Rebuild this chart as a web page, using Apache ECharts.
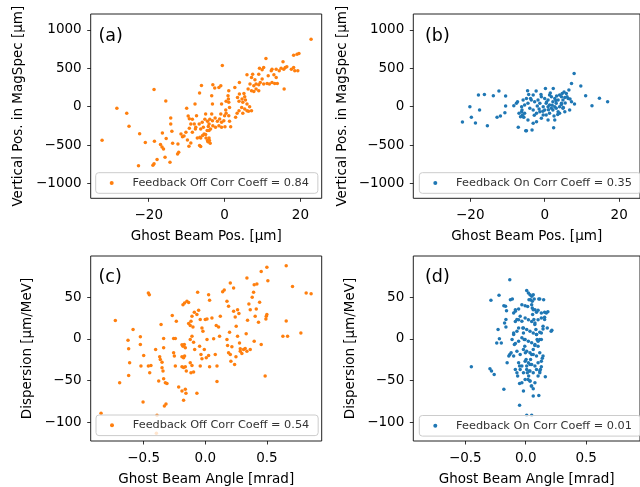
<!DOCTYPE html>
<html>
<head>
<meta charset="utf-8">
<script src="https://cdn.jsdelivr.net/npm/echarts@6/dist/echarts.min.js"></script>
<style>html,body{margin:0;padding:0;background:#fff}#c{width:640px;height:487px}</style>
</head>
<body>
<div id="c"></div>
<script>
// ---- data ----
const namesSeries = ['Feedback Off Corr Coeff = 0.84', 'Feedback On Corr Coeff = 0.35', 'Feedback Off Corr Coeff = 0.54', 'Feedback On Corr Coeff = 0.01'];
const panelLabels = ['(a)', '(b)', '(c)', '(d)'];
const xTicksPos = [-20, 0, 20];
const yTicksPos = [-1000, -500, 0, 500, 1000];
const xTicksAng = [-0.5, 0, 0.5];
const yTicksDisp = [-100, -50, 0, 50];

// (a) Ghost beam pos [um] vs vertical pos [um], feedback off
const offPos = [
[-18.6,225],[-15.5,74],[-28.4,-21],[-25.8,-86],[-25.2,-254],[-32.3,-435],[-22.4,-350],[-20.9,-466],[-18.5,-448],[-22.7,-768],
[-18.9,-759],[-18.6,-742],[-17.8,-687],[-16.9,-492],[-16.5,-522],[-16.1,-548],[-16.4,-341],[-15.7,-655],[-14.4,-720],[-15.4,-414],
[-14.2,-146],[-14.2,-224],[-13.9,-319],[-13.7,-474],[-12.3,-483],[-12.4,-613],[-12.1,-591],[-11.5,-354],[-11.1,-389],[-10.7,-380],
[-10.2,-332],[-10,-21],[-9.6,-120],[-9.3,-155],[-8.9,-224],[-9.3,-280],[-9.8,-431],[-9.4,-513],[-8.9,-470],[-7.8,35],
[-6.6,178],[-6.1,277],[-5.2,-163],[-5.0,-94],[-4.5,-189],[-8.5,-163],[-7.4,-116],[-8.0,-224],[-7.7,-289],[-7.2,-405],
[-6.6,-505],[-8.5,-332],[-7.6,-267],[-6.7,-224],[-6.3,-289],[-5.9,-202],[-5.6,-267],[-5.4,-353],[-4.5,-440],[-4.1,-310],
[-4.9,-405],[-6.3,-405],[-5.8,-375],[-4.3,-258],[-3.9,-163],[-4.4,-454],[-3.8,-475],[-6.5,-397],[-6.3,-518],
[22.8,877],[18.2,670],[19.1,683],[19.6,691],[15.4,583],[10.9,626],[-0.6,536],
[16.0,509],[16.4,518],[15.6,488],[14.9,501],[14.4,466],[13.6,488],[12.5,488],[12.3,466],[10.3,509],[9.9,479],[9.2,501],
[18.2,509],[18.5,466],[17.6,488],[19.3,466],[13.0,414],[13.6,380],[11.5,402],[9.9,359],[9.0,423],[15.7,229],[5.9,414],
[8.0,350],[8.3,294],[9.0,285],[7.7,272],[9.4,315],[10.3,294],[11.2,302],[11.8,294],[12.5,315],[13.2,302],[13.9,302],
[7.1,380],[7.4,423],[6.7,294],[6.2,229],[7.1,208],[7.7,199],[8.3,229],[9.0,208],
[3.9,315],[2.7,251],[1.1,208],[-1.0,272],[-1.5,251],[-3.1,285],[-2.6,242],[-3.4,143],[0.9,143],[0.4,70],[-0.8,35],[-3.2,35],
[3.9,165],[5.1,173],[5.3,130],[4.6,100],[5.5,87],[4.8,57],[3.8,70],[3.4,121],[5.9,35],[6.6,0],[5.3,-30],[4.5,-9],[3.8,-52],
[3.3,-86],[2.9,-138],[4.8,-86],[5.9,-52],[6.3,-60],[7.1,-52],
[1.0,100],[1.1,57],[1.3,-9],[0.3,-43],[0.4,-86],[1.1,-116],[0,-116],[-0.2,-181],[-0.8,-202],[1.3,-189],[0.1,-259],[1.6,-259],
[-1.5,-246],[-2.4,-267],[-3.1,-246],[-4.1,-224],[-3.7,-289],[-4.6,-310],[-5.0,-362],[-4.1,-405],[-4.0,-440],[-0.8,-267],
[-2.5,-146],[-3.2,-181],[-3.4,-95],[-1.9,-189],[-1.3,-159],[-1.0,-95]
];

// (b) feedback on
const onPos = [
[-22.1,-198],[-19.7,-138],[-18.6,-211],[-20.1,0],[-17.5,-43],[-17.8,151],[-16.2,160],[-13.8,143],[-12.3,203],[-10.5,138],
[-15.4,-246],[-10.5,9],[-10.7,-78],[-12.8,-138],[-11.9,-120],[-8.3,13],[-7.3,65],[-7.6,44],[-5.8,87],[-7.1,-267],
[-6.9,-85],[-6.2,-65],[-6.0,-108],[-6.5,-130],[-5.4,-85],[-5.6,-137],[-6.2,0],[-5.1,-311],
[7.9,433],[7.2,303],[9.7,268],[11.0,143],[12.7,13],[14.7,109],[16.9,65],[2.4,-272],[-4.9,-311],[-3.4,-302],[0.2,238],[2.3,238],
[-2.3,203],[-4.3,160],[4.7,173],[5.2,190],[6.5,216],[8.0,35],[7.2,65],[6.7,-43],[5.4,-65],
[4.0,-85],[2.7,-172],[0.9,-172],[-0.9,-150],[-2.2,-194],[-3.1,-215],[-4.5,-172],[-5.8,-130],[-6.1,-43],
[-0.9,130],[0,108],[0.9,87],[1.3,151],[1.8,130],[2.2,65],[2.7,108],[3.1,44],[3.6,87],[4.0,151],[4.5,130],[4.9,87],[5.4,121],
[5.8,173],[6.3,108],[0.4,44],[0.9,0],[1.3,22],[1.8,-21],[2.2,-43],[2.7,0],[3.1,-21],[3.6,-64],[0,-43],[-0.4,0],[-1.3,44],
[-1.8,87],[-2.7,65],[-3.6,87],[-4.5,44],[-4.0,-21],[-3.1,-43],[-2.2,-86],[-1.3,-64],[-0.4,-108],[0.4,-108],[1.3,-86],
[-4.9,108],[-5.4,22],[4.9,-21],[4.5,44],[4.0,0],[-3.8,108],[-3.1,151],[-4.6,207],
[-1.5,-30],[-2.8,-110],[-0.5,-60],[1.0,-40],[2.0,20],[3.0,80],[3.5,-100],[4.5,30],[5.5,50],[6.0,130],[-1.0,160],[1.5,180],
[2.5,-120],[0.5,60],[-2.0,10],[3.2,140],[5.0,-10],[6.8,100]
];

// (c) Ghost beam angle [mrad] vs dispersion [um/MeV], feedback off
const offAngle = [
[-0.846,-88.9],[-0.730,21.8],[-0.586,11.1],[-0.627,-1.6],[-0.622,-11.9],[-0.614,-28.6],[-0.622,-43.7],[-0.695,-52.4],[-0.527,2.4],
[-0.527,-6.7],[-0.522,-32.5],[-0.5,-19.8],[-0.505,-75.4],[-0.462,54.8],[-0.454,52.8],[-0.462,-32.5],[-0.451,-40.5],[-0.441,-31.7],
[-0.403,-12.7],[-0.378,-50.4],[-0.370,-21.4],[-0.365,-24.6],[-0.351,-27.8],[-0.351,-34.5],[-0.343,-38.5],[-0.338,0.4],[-0.338,-10.7],
[-0.359,17.1],[-0.392,-91.3],[-0.397,-112.7],[-0.338,-47.6],[-0.324,-52.4],[-0.311,-53.2],[-0.332,-80.2],[-0.319,-77.8],[-0.268,27.8],
[-0.257,0.4],[-0.243,0.4],[-0.257,-16.7],[-0.251,-20.6],[-0.243,-32.5],[-0.235,21],[-0.216,-57.5],[-0.189,-62.3],[-0.181,40.9],
[-0.168,42.9],[-0.189,-7.1],[-0.181,-8.7],[-0.170,-6.7],[-0.162,-10.7],[-0.189,-21.4],[-0.176,-22.6],[-0.168,-20.6],[-0.189,-33.3],
[-0.176,-34.1],[-0.162,-33.3],[-0.154,-38.5],[-0.162,-60.3],[-0.157,-65],[-0.176,-73.4],[-0.149,44.8],[-0.135,43.6],[-0.135,18.3],
[-0.122,15.9],[-0.116,21],[-0.1,14.3],[-0.108,27],[-0.089,31.7],[-0.122,-0.8],[-0.108,3.2],[-0.095,-4.0],[-0.086,-12.7],
[-0.122,-28.6],[-0.108,-31.7],[-0.116,-40.5],[-0.095,-39.7],[-0.068,-65.1],[-0.054,34.1],[-0.068,29],[-0.062,55.6],[-0.041,23],
[-0.027,13.1],[-0.019,9.1],[-0.046,-8.7],[-0.035,-18.7],[-0.027,-23.8],[-0.041,-32.5],
[0,23],[0.014,23.8],[0.027,52.8],[0.035,46],[0.014,-0.8],[-0.008,-12.7],[0.008,-22.6],[0.027,-19.8],[0.035,-33.3],[0.054,25],
[0.068,0],[0.081,-18.7],[0.089,15.9],[0.095,-32.5],[0.108,14.3],[0.116,3.2],[0.122,27],[0.141,56.3],[0.154,58.3],[0.176,44.8],
[0.189,38.9],[0.203,66.7],[0.197,7.9],[0.176,-0.8],[0.181,-7.9],[0.189,-16.7],[0.203,-18.7],[0.216,-9.5],[0.208,-26.6],[0.230,32.9],
[0.243,26.2],[0.251,15.1],[0.262,34.9],[0.273,30.2],[0.230,60.7],[0.238,-30.6],[0.249,-21.4],[0.262,3.2],[0.278,-4.8],[0.284,-11.9],
[0.297,-17.5],[0.311,-12.7],[0.338,-14.7],[0.332,6.0],[0.343,22.2],[0.354,41.7],[0.365,34.9],[0.381,49.6],[0.392,55.6],[0.338,72.6],
[0.397,64.7],[0.419,65.5],[0.405,27],[0.414,35.7],[0.432,19.8],[0.441,43.7],[0.454,80.6],[0.492,23.8],[0.495,27],[0.5,29],
[0.5,85.7],[0.486,-44.4],[0.508,69.4],[0.454,-6.7],[0.397,-2.8],[0.365,-12.7],[0.324,-11.5],[0.284,-14.7],[0.657,87.3],[0.657,21.4],
[0.630,3.2],[0.668,3.2],[0.708,62.7],[0.776,7.1],[0.819,54.8],[0.859,54],[0.095,-50.8]
];

// (d) feedback on
const onAngle = [
[-0.132,70.6],[-0.450,-33.3],[-0.296,-35.7],[-0.283,-38.5],[-0.261,-42.5],[-0.288,46],[-0.221,52],[-0.240,-4.8],[-0.218,0],[-0.202,-4.8],
[-0.229,11.1],[-0.181,-60.3],[-0.181,39.7],[-0.167,38.9],[-0.164,23],[-0.175,19],[-0.164,14.3],[-0.159,33.7],[-0.127,46.8],[-0.111,47.6],
[-0.154,-28.6],[-0.140,-20.6],[-0.132,-18.7],[-0.121,-16.7],[-0.113,-0.8],[-0.1,7.1],[-0.094,-6.7],[-0.1,31],[-0.086,34.9],[-0.073,23],
[-0.059,13.1],[-0.086,-36.5],[-0.073,-40.5],[-0.067,-44.4],[-0.051,-32.5],[-0.051,-79.4],[-0.051,-53.2],[-0.019,-62.3],
[-0.046,27],[-0.032,21],[-0.024,13.1],[-0.019,7.1],[-0.013,-0.8],[-0.008,-8.7],[-0.003,-16.7],[0.003,-24.6],[0.008,-32.5],[0.013,-40.5],
[0.019,-48.4],[0.008,57.9],[0.022,54.8],[0.035,52.8],[0.040,46.8],[0.049,40.9],[0.062,34.9],[0.057,29],[0.067,23],[0.075,17.1],
[0.084,11.1],[0.089,5.2],[0.094,-0.8],[0.075,-7.9],[0.062,-12.7],[0.049,-18.7],[0.040,-24.6],[0.035,-30.6],[0.030,-38.5],[0.024,-44.4],
[0.035,-50.4],[0.046,-56.3],[0.062,-59.5],[0.116,-38.5],[0.129,-33.3],[0.137,-23],[0.102,-8.7],[0.116,-0.8],[0.129,7.1],[0.143,15.1],
[0.156,23],[0.170,31],[0.148,46.8],[0.116,47.6],[0.178,13.1],[0.216,10.3],[0.183,32.5],[0.156,25.8],[0.162,-45.2],[0.108,-67.5],
[0.062,-68.3],[0.143,-20.6],[0.121,-36.5],[0.102,-44.4],[0.008,-91.3],[0.049,-91.3],
[0.049,50.8],[0.062,52.7],[0.027,46.8],[0.054,44.8],[0.070,47.6],[0.108,47.6],[-0.032,40.8],[-0.005,39.6],[0.016,38.8],[-0.059,35.7],
[-0.086,32.9],[0.054,36.9],[0.076,34.9],[0.089,31.7],[0.102,34.1],[0.129,30.9],[0.156,31.7],[0.210,9.1],
[-0.005,24.9],[0.022,22.9],[0.049,20.9],[0.076,19],[0.102,22.9],[0.129,24.9],[-0.059,22.9],[-0.086,20.9],
[-0.019,13.1],[0.008,11.1],[0.035,9.1],[0.062,7.1],[0.089,5.1],[0.116,7.9],[0.143,11.9],[-0.073,9.1],[-0.100,5.1],
[-0.032,1.2],[-0.005,-0.8],[0.022,-2.8],[0.049,-4.7],[0.076,-6.7],[0.102,-2.8],[0.129,-0.8],[-0.059,-2.8],[-0.086,-5.6],
[-0.019,-12.7],[0.008,-14.7],[0.035,-16.7],[0.062,-18.7],[0.089,-20.6],[0.116,-16.7],[-0.046,-18.7],[-0.073,-14.7],[-0.100,-20.6],
[-0.005,-26.6],[0.022,-28.6],[0.049,-30.6],[0.076,-32.5],[0.102,-28.6],[0.129,-26.6],[-0.032,-32.5],[-0.059,-28.6],
[0.008,-36.5],[0.035,-38.5],[0.062,-40.5],[0.089,-36.5],[0.116,-40.5],[-0.019,-40.5],[-0.046,-36.5],
[-0.005,-48.4],[0.035,-50.4],[0.076,-52.4],[-0.032,-52.4],[0.049,-56.3]
];

// ---- chart ----
const FONT = 'DejaVu Sans';
const fmt = v => (v < 0 ? '\u2212' + String(Math.abs(v)) : String(v));
const fmtAng = v => { const s = Math.abs(v).toFixed(1); return v < 0 ? '\u2212' + s : s; };

const grids = [
  {left: 90.7, top: 14, width: 231, height: 184.3},
  {left: 413.3, top: 14, width: 231, height: 184.3},
  {left: 90.7, top: 256, width: 231, height: 185.6},
  {left: 413.3, top: 256, width: 231, height: 185.6}
].map(g => Object.assign(g, {show: true, borderColor: '#222', borderWidth: 1, backgroundColor: 'transparent'}));

function xAxis(i, min, max, ticks, f, name) {
  return {
    gridIndex: i, type: 'value', min, max, position: 'bottom',
    splitLine: {show: false}, axisLine: {show: false, onZero: false},
    axisTick: {show: true, length: 3.5, lineStyle: {color: '#000', width: 0.8}, customValues: ticks},
    axisLabel: {customValues: ticks, formatter: f, color: '#000', fontSize: 13.5, fontFamily: FONT, margin: 10},
    name, nameLocation: 'middle', nameGap: 31,
    nameTextStyle: {fontSize: 13.5, color: '#000', fontFamily: FONT}
  };
}
function yAxis(i, min, max, ticks, f, name, gap) {
  return {
    gridIndex: i, type: 'value', min, max, position: 'left',
    splitLine: {show: false}, axisLine: {show: false, onZero: false},
    axisTick: {show: true, length: 3.5, lineStyle: {color: '#000', width: 0.8}, customValues: ticks},
    axisLabel: {customValues: ticks, formatter: f, color: '#000', fontSize: 13.5, fontFamily: FONT, margin: 9},
    name, nameLocation: 'middle', nameGap: gap,
    nameTextStyle: {fontSize: 13.5, color: '#000', fontFamily: FONT}
  };
}

const xPosName = 'Ghost Beam Pos. [\u03bcm]';
const xAngName = 'Ghost Beam Angle [mrad]';
const yPosName = 'Vertical Pos. in MagSpec [\u03bcm]';
const yDispName = 'Dispersion [\u03bcm/MeV]';

const legendPos = [[95.7, 172.7], [419.3, 172.7], [96, 415], [419.3, 415.5]];
const colors = ['#ff7f0e', '#1f77b4', '#ff7f0e', '#1f77b4'];
const datasets = [offPos, onPos, offAngle, onAngle];

const option = {
  animation: false,
  grid: grids,
  xAxis: [
    xAxis(0, -35.3, 25.6, xTicksPos, fmt, xPosName),
    xAxis(1, -35.3, 25.6, xTicksPos, fmt, xPosName),
    xAxis(2, -0.93, 0.945, xTicksAng, fmtAng, xAngName),
    xAxis(3, -0.93, 0.945, xTicksAng, fmtAng, xAngName)
  ],
  yAxis: [
    yAxis(0, -1190, 1205, yTicksPos, fmt, yPosName, 65),
    yAxis(1, -1190, 1205, yTicksPos, fmt, yPosName, 64),
    yAxis(2, -122, 99, yTicksDisp, fmt, yDispName, 56),
    yAxis(3, -122, 99, yTicksDisp, fmt, yDispName, 56)
  ],
  legend: legendPos.map((p, i) => ({
    data: [namesSeries[i]], left: p[0], top: p[1], icon: 'circle',
    itemWidth: 31.6, itemHeight: 4, itemGap: 0, padding: [4.8, 8.9, 4.8, 14],
    backgroundColor: 'rgba(255,255,255,0.8)', borderColor: '#ccc', borderWidth: 1, borderRadius: 3,
    textStyle: {fontSize: 11.3, color: '#333', fontFamily: FONT}, selectedMode: false
  })),
  series: datasets.map((d, i) => ({
    type: 'scatter', name: namesSeries[i], xAxisIndex: i, yAxisIndex: i,
    data: d, symbolSize: 3.5, itemStyle: {color: colors[i], opacity: 1},
    emphasis: {disabled: true}, silent: true
  })),
  graphic: [
    {type: 'text', left: 98.5, top: 27, style: {text: panelLabels[0], fontSize: 17.5, fontFamily: FONT, fill: '#000'}},
    {type: 'text', left: 425, top: 27, style: {text: panelLabels[1], fontSize: 17.5, fontFamily: FONT, fill: '#000'}},
    {type: 'text', left: 98.5, top: 268, style: {text: panelLabels[2], fontSize: 17.5, fontFamily: FONT, fill: '#000'}},
    {type: 'text', left: 425, top: 268, style: {text: panelLabels[3], fontSize: 17.5, fontFamily: FONT, fill: '#000'}}
  ]
};
const chart = echarts.init(document.getElementById('c'), null, {renderer: 'canvas'});
chart.setOption(option);
</script>
</body>
</html>
